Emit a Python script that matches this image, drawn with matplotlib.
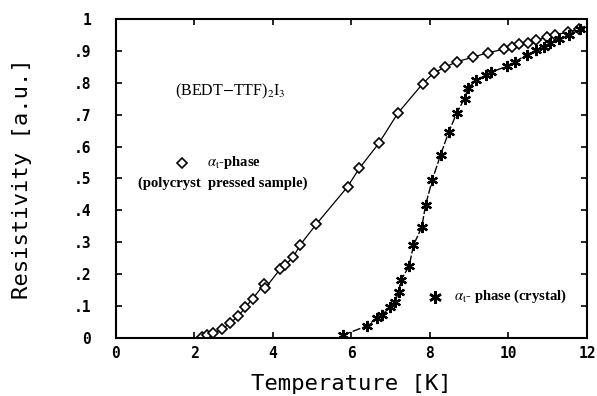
import numpy as np
import matplotlib
matplotlib.use('Agg')
import matplotlib.pyplot as plt

plt.rcParams['mathtext.fontset'] = 'stix'

# polycrystalline pressed sample (diamonds)
t_poly = [2.18, 2.31, 2.48, 2.69, 2.90, 3.12, 3.29, 3.48, 3.78, 3.80, 4.18, 4.31,
          4.52, 4.69, 5.10, 5.90, 6.20, 6.70, 7.18, 7.81, 8.09, 8.39, 8.69, 9.10,
          9.47, 9.89, 10.09, 10.28, 10.50, 10.71, 10.98, 11.19, 11.52, 11.79]
r_poly = [0.003, 0.008, 0.014, 0.026, 0.045, 0.068, 0.095, 0.122, 0.169, 0.155,
          0.215, 0.228, 0.254, 0.291, 0.356, 0.474, 0.532, 0.611, 0.705, 0.797,
          0.831, 0.850, 0.867, 0.881, 0.895, 0.906, 0.914, 0.921, 0.925, 0.935,
          0.943, 0.952, 0.959, 0.969]

# crystal (stars)
t_cryst = [5.78, 6.39, 6.64, 6.77, 6.98, 7.11, 7.20, 7.26, 7.47, 7.58, 7.79, 7.89,
           8.06, 8.27, 8.48, 8.68, 8.88, 8.97, 9.18, 9.43, 9.56, 9.95, 10.17,
           10.47, 10.70, 10.90, 11.07, 11.30, 11.55, 11.82]
r_cryst = [0.008, 0.037, 0.061, 0.071, 0.095, 0.113, 0.144, 0.181, 0.225, 0.291,
           0.347, 0.418, 0.496, 0.574, 0.647, 0.705, 0.751, 0.784, 0.809, 0.825,
           0.834, 0.852, 0.867, 0.889, 0.902, 0.913, 0.925, 0.937, 0.950, 0.969]

x_ticks = [0, 2, 4, 6, 8, 10, 12]
y_ticks = [0, 0.1, 0.2, 0.3, 0.4, 0.5, 0.6, 0.7, 0.8, 0.9, 1.0]
y_labels = ['0', '.1', '.2', '.3', '.4', '.5', '.6', '.7', '.8', '.9', '1']

fig = plt.figure(figsize=(5.97, 3.96), dpi=100)
ax = fig.add_axes([0.1943, 0.1472, 0.7889, 0.8041])

star = (6, 2, 0)
ax.plot(t_poly, r_poly, '-', color='k', lw=0.9, marker='D', ms=5.5,
        mfc='white', mec='k', mew=1.2)
ax.plot(t_cryst, r_cryst, color='k', lw=1.0, ls=(0, (6, 1.5)), marker=star,
        ms=8, mec='k', mew=1.6)

ax.set_xlim(0, 12)
ax.set_ylim(0, 1)
ax.set_xticks(x_ticks)
ax.set_yticks(y_ticks)
ax.set_yticklabels(y_labels)
mono = 'DejaVu Sans Mono'
ax.tick_params(direction='in', top=True, right=True, length=4, width=1.2,
               labelsize=10.5)
ax.tick_params(axis='y', pad=18)
ax.tick_params(axis='x', pad=6)
for lab in ax.get_xticklabels() + ax.get_yticklabels():
    lab.set_family(mono)
    lab.set_fontweight('bold')
for s in ax.spines.values():
    s.set_linewidth(1.5)

ax.set_xlabel('Temperature [K]', family=mono, fontsize=16, labelpad=9)
ax.set_ylabel('Resistivity [a.u.]', family=mono, fontsize=16, labelpad=30)

ax.text(1.5, 0.775, r'(BEDT$-$TTF)$_2$I$_3$', family='Liberation Serif',
        fontsize=11.5, va='center')

ax.plot([1.68], [0.549], marker='D', ms=5.5, mfc='white', mec='k', mew=1.2)
ax.text(2.32, 0.549, r'$\alpha_\mathrm{t}$-phase', family='Liberation Serif',
        fontsize=10.5, fontweight='bold', va='center')
ax.text(0.56, 0.486, '(polycryst  pressed sample)', family='Liberation Serif',
        fontsize=10.5, fontweight='bold', va='center')

ax.plot([8.14], [0.129], marker=star, ms=9, color='k', mew=1.8)
ax.text(8.6, 0.129, r'$\alpha_\mathrm{t}$- phase (crystal)', family='Liberation Serif',
        fontsize=10.5, fontweight='bold', va='center')

fig.savefig('out.png', dpi=100)
